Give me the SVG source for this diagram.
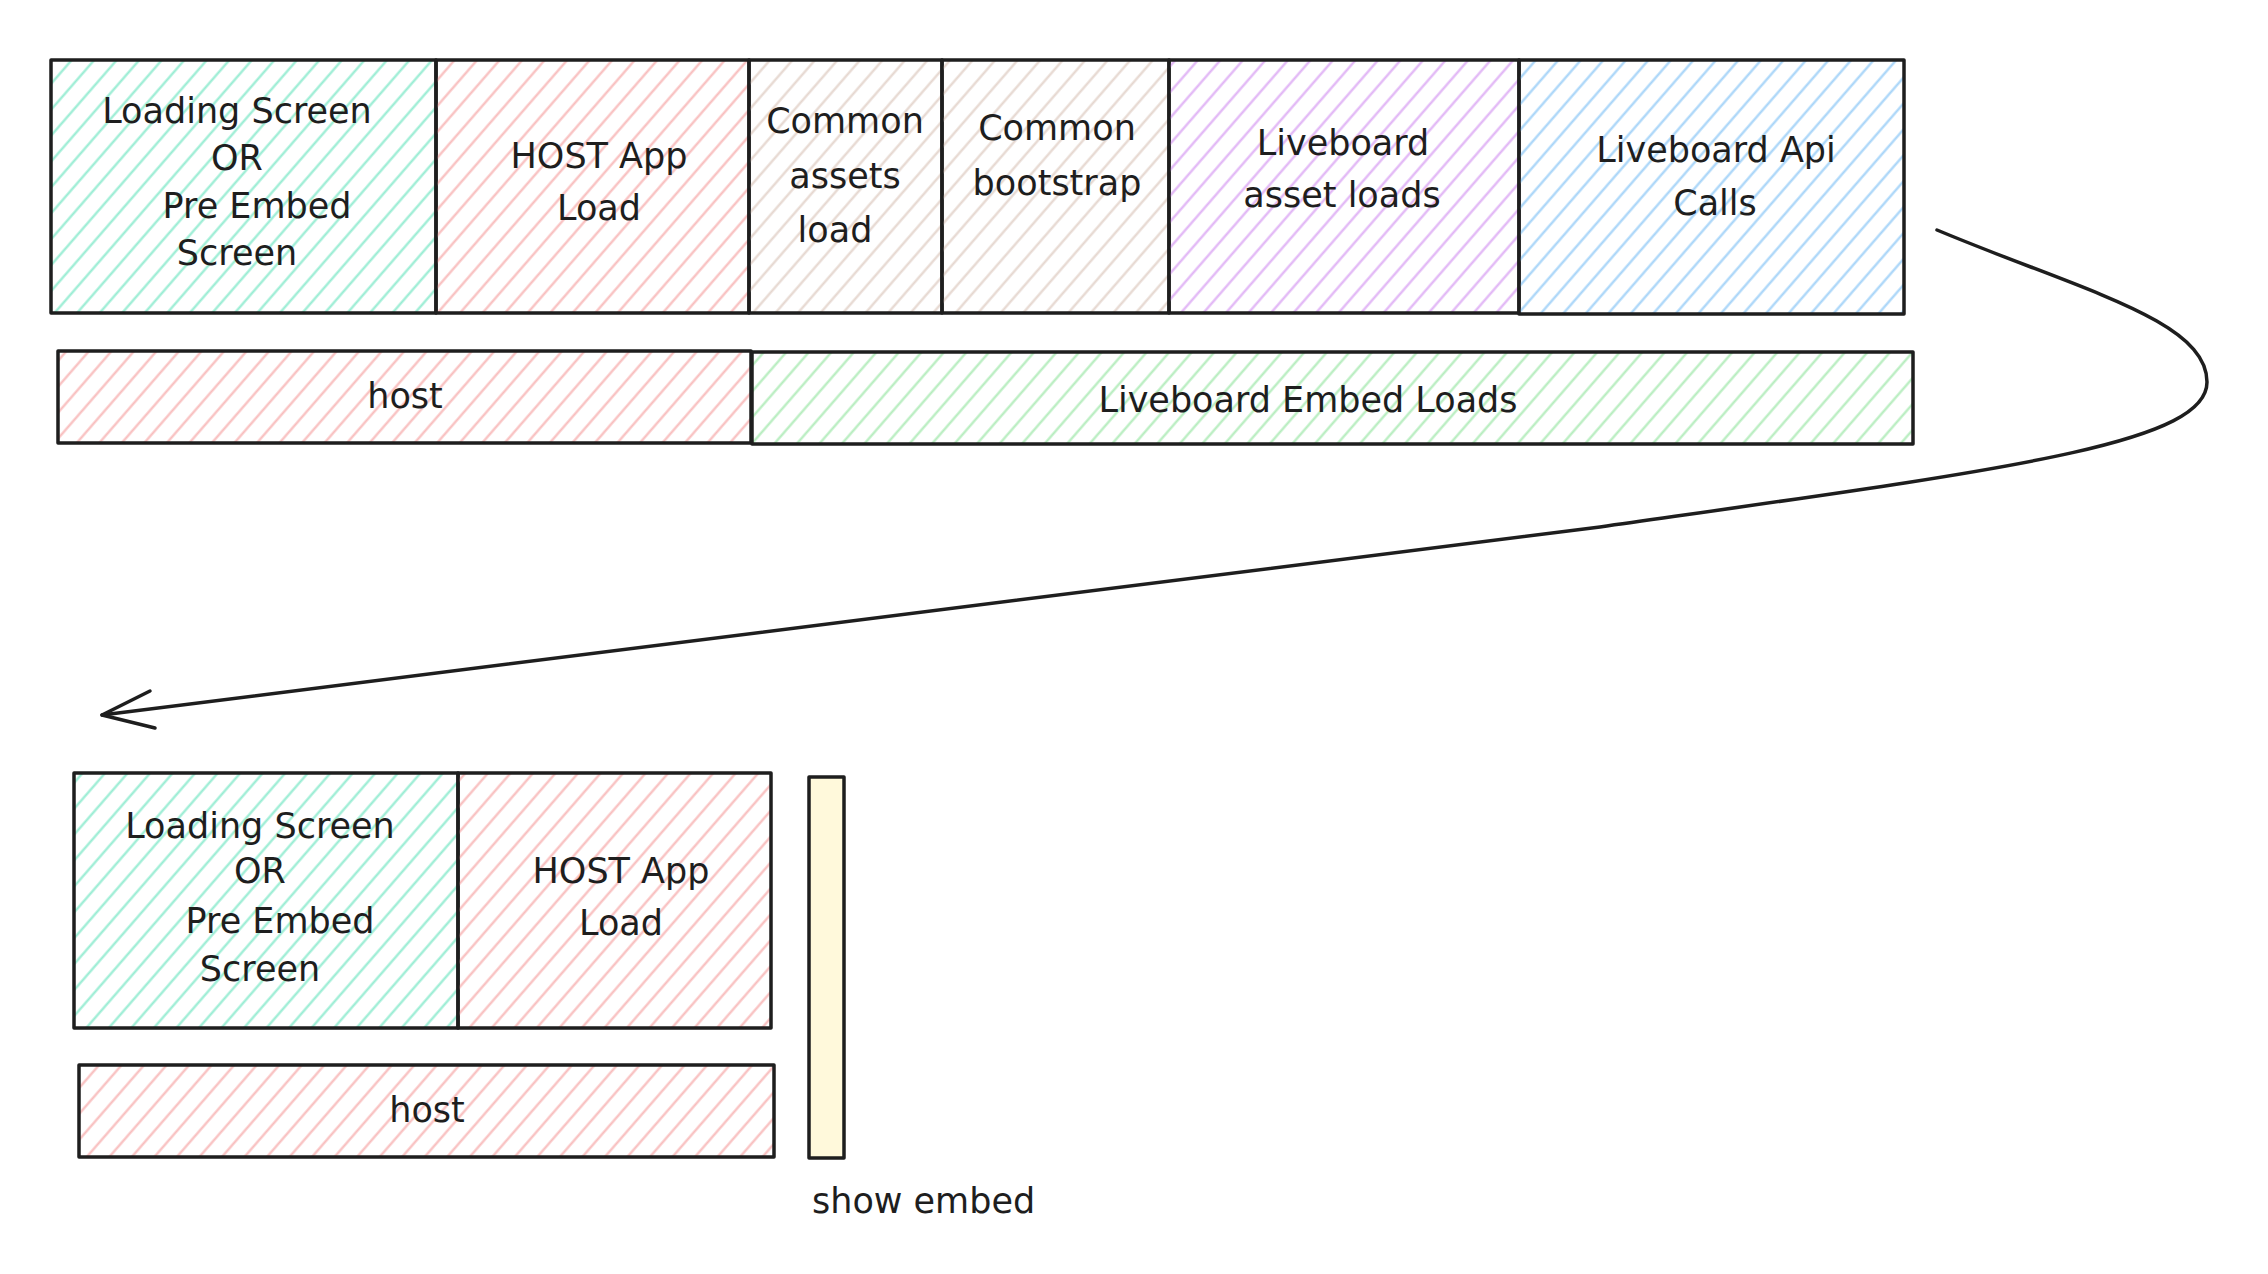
<svg xmlns="http://www.w3.org/2000/svg" width="2268" height="1274" viewBox="0 0 2268 1274">
  <style>
    .box { stroke: #1e1e1e; stroke-width: 3.5; stroke-linejoin: round; }
    .lbl { font-family: "DejaVu Sans", "Liberation Sans", sans-serif; font-size: 35px; fill: #1e1e1e; text-anchor: middle; }
    .lbl-left { font-family: "DejaVu Sans", "Liberation Sans", sans-serif; font-size: 35px; fill: #1e1e1e; text-anchor: start; }
    .conn { fill: none; stroke: #1e1e1e; stroke-width: 3.5; stroke-linecap: round; stroke-linejoin: round; }
  </style>
  <defs>
    <pattern id="h-teal" patternUnits="userSpaceOnUse" width="17" height="17" patternTransform="rotate(41)">
      <line x1="8.5" y1="0" x2="8.5" y2="17" stroke="#96ecd2" stroke-width="2.2"/>
    </pattern>
    <pattern id="h-pink" patternUnits="userSpaceOnUse" width="17" height="17" patternTransform="rotate(41)">
      <line x1="8.5" y1="0" x2="8.5" y2="17" stroke="#f8bcbc" stroke-width="2.2"/>
    </pattern>
    <pattern id="h-beige" patternUnits="userSpaceOnUse" width="17" height="17" patternTransform="rotate(41)">
      <line x1="8.5" y1="0" x2="8.5" y2="17" stroke="#e5d6ce" stroke-width="2.2"/>
    </pattern>
    <pattern id="h-purple" patternUnits="userSpaceOnUse" width="17" height="17" patternTransform="rotate(41)">
      <line x1="8.5" y1="0" x2="8.5" y2="17" stroke="#e0b2f5" stroke-width="2.2"/>
    </pattern>
    <pattern id="h-blue" patternUnits="userSpaceOnUse" width="17" height="17" patternTransform="rotate(41)">
      <line x1="8.5" y1="0" x2="8.5" y2="17" stroke="#a5d3f8" stroke-width="2.2"/>
    </pattern>
    <pattern id="h-green" patternUnits="userSpaceOnUse" width="17" height="17" patternTransform="rotate(41)">
      <line x1="8.5" y1="0" x2="8.5" y2="17" stroke="#b4ecbc" stroke-width="2.2"/>
    </pattern>
  </defs>
  <rect x="0" y="0" width="2268" height="1274" fill="#ffffff"/>

  <!-- Top row -->
  <g id="loading-screen-top">
    <rect class="box" x="51" y="60" width="385" height="253" fill="url(#h-teal)"/>
    <text class="lbl" x="237" y="123">Loading Screen</text>
    <text class="lbl" x="237" y="170">OR</text>
    <text class="lbl" x="257" y="218">Pre Embed</text>
    <text class="lbl" x="237" y="265">Screen</text>
  </g>
  <g id="host-app-load-top">
    <rect class="box" x="436" y="60" width="313" height="253" fill="url(#h-pink)"/>
    <text class="lbl" x="599" y="168">HOST App</text>
    <text class="lbl" x="599" y="220">Load</text>
  </g>
  <g id="common-assets-load">
    <rect class="box" x="749" y="60" width="193" height="253" fill="url(#h-beige)"/>
    <text class="lbl" x="845" y="133">Common</text>
    <text class="lbl" x="845" y="188">assets</text>
    <text class="lbl" x="835" y="242">load</text>
  </g>
  <g id="common-bootstrap">
    <rect class="box" x="942" y="60" width="227" height="253" fill="url(#h-beige)"/>
    <text class="lbl" x="1057" y="140">Common</text>
    <text class="lbl" x="1057" y="195">bootstrap</text>
  </g>
  <g id="liveboard-asset-loads">
    <rect class="box" x="1169" y="60" width="350" height="253" fill="url(#h-purple)"/>
    <text class="lbl" x="1343" y="155">Liveboard</text>
    <text class="lbl" x="1342" y="207">asset loads</text>
  </g>
  <g id="liveboard-api-calls">
    <rect class="box" x="1519" y="60" width="385" height="254" fill="url(#h-blue)"/>
    <text class="lbl" x="1716" y="162">Liveboard Api</text>
    <text class="lbl" x="1715" y="215">Calls</text>
  </g>

  <!-- Second row -->
  <g id="host-top">
    <rect class="box" x="58" y="351" width="693" height="92" fill="url(#h-pink)"/>
    <text class="lbl" x="405" y="408">host</text>
  </g>
  <g id="liveboard-embed-loads">
    <rect class="box" x="752" y="352" width="1161" height="92" fill="url(#h-green)"/>
    <text class="lbl" x="1308" y="412">Liveboard Embed Loads</text>
  </g>

  <!-- Bottom section -->
  <g id="loading-screen-bottom">
    <rect class="box" x="74" y="773" width="384" height="255" fill="url(#h-teal)"/>
    <text class="lbl" x="260" y="838">Loading Screen</text>
    <text class="lbl" x="260" y="883">OR</text>
    <text class="lbl" x="280" y="933">Pre Embed</text>
    <text class="lbl" x="260" y="981">Screen</text>
  </g>
  <g id="host-app-load-bottom">
    <rect class="box" x="458" y="773" width="313" height="255" fill="url(#h-pink)"/>
    <text class="lbl" x="621" y="883">HOST App</text>
    <text class="lbl" x="621" y="935">Load</text>
  </g>
  <g id="host-bottom">
    <rect class="box" x="79" y="1065" width="695" height="92" fill="url(#h-pink)"/>
    <text class="lbl" x="427" y="1122">host</text>
  </g>
  <g id="show-embed">
    <rect class="box" x="809" y="777" width="35" height="381" fill="#fff9db"/>
    <text class="lbl-left" x="812" y="1213">show embed</text>
  </g>

  <!-- Connectors -->
  <g id="connectors">
    <path class="conn" d="M1937,230 C2080,290 2207,320 2207,382 C2207,445 2000,470 1600,527 L102,715"/>
    <path class="conn" d="M150,691 L102,715 L155,728"/>
  </g>
</svg>
